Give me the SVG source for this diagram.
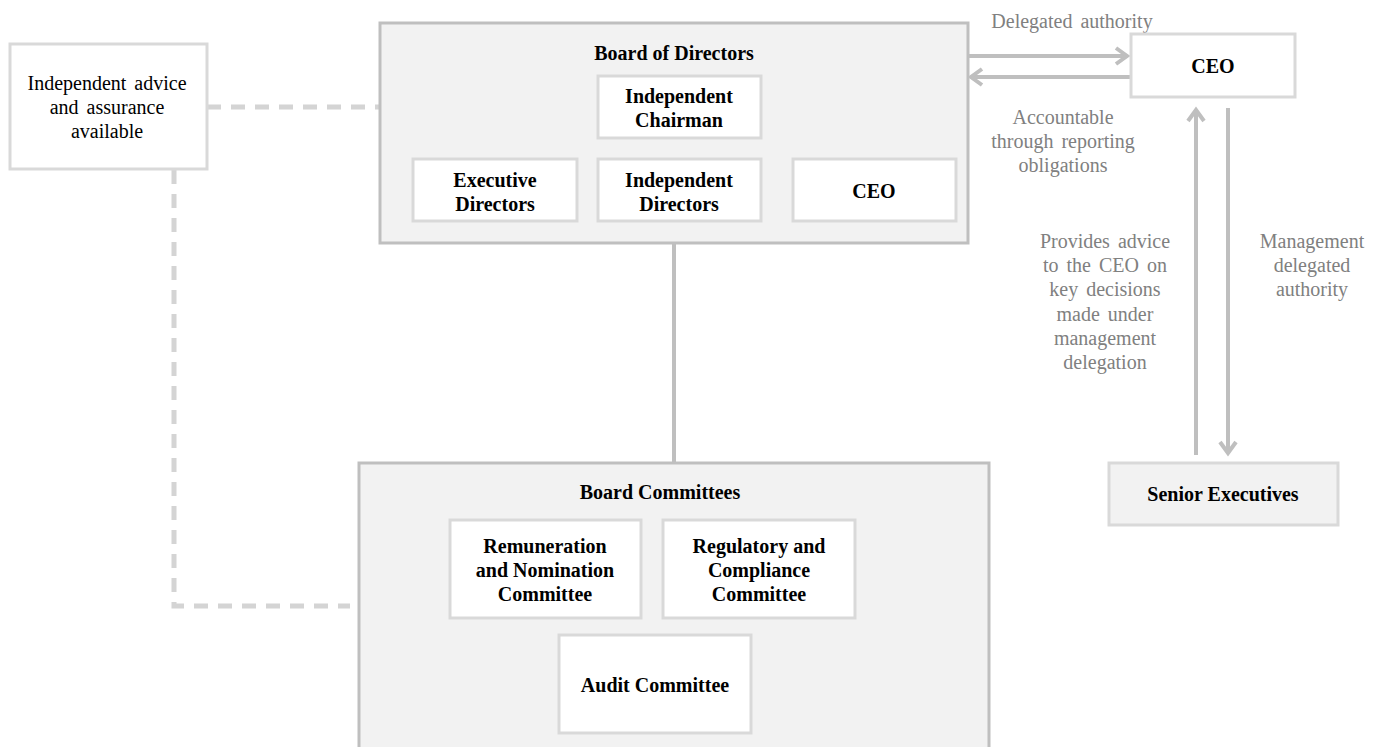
<svg xmlns="http://www.w3.org/2000/svg" width="1381" height="747" viewBox="0 0 1381 747">
<defs>
<style>
.t{font-family:'Liberation Serif','Times New Roman','DejaVu Serif',serif;font-size:20px;text-anchor:middle}
.b{font-weight:bold;fill:#000}
.g{fill:#808080;word-spacing:3px}
.n{fill:#000;word-spacing:3px}
.outer{fill:#f2f2f2;stroke:#bfbfbf;stroke-width:3}
.inner{fill:#ffffff;stroke:#d9d9d9;stroke-width:3}
.conn{stroke:#bfbfbf;stroke-width:4;fill:none}
.dash{stroke:#d4d4d4;stroke-width:5;fill:none;stroke-dasharray:14 10}
</style>
<marker id="ah" markerUnits="userSpaceOnUse" markerWidth="18" markerHeight="20" refX="13" refY="10" orient="auto">
<path d="M2,2 L13,10 L2,18" fill="none" stroke="#bfbfbf" stroke-width="4"/>
</marker>
</defs>
<rect width="1381" height="747" fill="#ffffff"/>
<g id="connectors">
<path class="dash" d="M207,107 H380"/>
<path class="dash" d="M174,170 V606 H350"/>
<path class="conn" d="M674,243 V463"/>
<path class="conn" d="M969,56 H1127" marker-end="url(#ah)"/>
<path class="conn" d="M1131,77 H971" marker-end="url(#ah)"/>
<path class="conn" d="M1196,455 V110" marker-end="url(#ah)"/>
<path class="conn" d="M1228,108 V453" marker-end="url(#ah)"/>
</g>
<g id="labels" font-family="Liberation Serif, serif">
<text class="t g" x="1072" y="28">Delegated authority</text>
<text class="t g" x="1063" y="124">Accountable</text>
<text class="t g" x="1063" y="148">through reporting</text>
<text class="t g" x="1063" y="172">obligations</text>
<text class="t g" x="1105" y="248">Provides advice</text>
<text class="t g" x="1105" y="272">to the CEO on</text>
<text class="t g" x="1105" y="296">key decisions</text>
<text class="t g" x="1105" y="321">made under</text>
<text class="t g" x="1105" y="345">management</text>
<text class="t g" x="1105" y="369">delegation</text>
<text class="t g" x="1312" y="248">Management</text>
<text class="t g" x="1312" y="272">delegated</text>
<text class="t g" x="1312" y="296">authority</text>
</g>
<g id="advice">
<rect class="inner" x="10" y="44" width="197" height="125"/>
<text class="t n" x="107" y="90">Independent advice</text>
<text class="t n" x="107" y="114">and assurance</text>
<text class="t n" x="107" y="138">available</text>
</g>
<g id="board">
<rect class="outer" x="380" y="23" width="588" height="220"/>
<text class="t b" x="674" y="60">Board of Directors</text>
</g>
<g id="chairman">
<rect class="inner" x="598" y="76" width="163" height="62"/>
<text class="t b" x="679" y="103">Independent</text>
<text class="t b" x="679" y="127">Chairman</text>
</g>
<g id="execdir">
<rect class="inner" x="413" y="159" width="164" height="62"/>
<text class="t b" x="495" y="187">Executive</text>
<text class="t b" x="495" y="211">Directors</text>
</g>
<g id="inddir">
<rect class="inner" x="598" y="159" width="163" height="62"/>
<text class="t b" x="679" y="187">Independent</text>
<text class="t b" x="679" y="211">Directors</text>
</g>
<g id="boardceo">
<rect class="inner" x="793" y="159" width="163" height="62"/>
<text class="t b" x="874" y="198">CEO</text>
</g>
<g id="ceo">
<rect class="inner" x="1131" y="34" width="164" height="63"/>
<text class="t b" x="1213" y="73">CEO</text>
</g>
<g id="senior">
<rect class="outer" x="1109" y="463" width="229" height="62" style="stroke:#d9d9d9"/>
<text class="t b" x="1223" y="501">Senior Executives</text>
</g>
<g id="committees">
<rect class="outer" x="359" y="463" width="630" height="300"/>
<text class="t b" x="660" y="499">Board Committees</text>
</g>
<g id="remun">
<rect class="inner" x="450" y="520" width="191" height="98"/>
<text class="t b" x="545" y="553">Remuneration</text>
<text class="t b" x="545" y="577">and Nomination</text>
<text class="t b" x="545" y="601">Committee</text>
</g>
<g id="regul">
<rect class="inner" x="663" y="520" width="192" height="98"/>
<text class="t b" x="759" y="553">Regulatory and</text>
<text class="t b" x="759" y="577">Compliance</text>
<text class="t b" x="759" y="601">Committee</text>
</g>
<g id="audit">
<rect class="inner" x="559" y="635" width="192" height="98"/>
<text class="t b" x="655" y="692">Audit Committee</text>
</g>
</svg>
